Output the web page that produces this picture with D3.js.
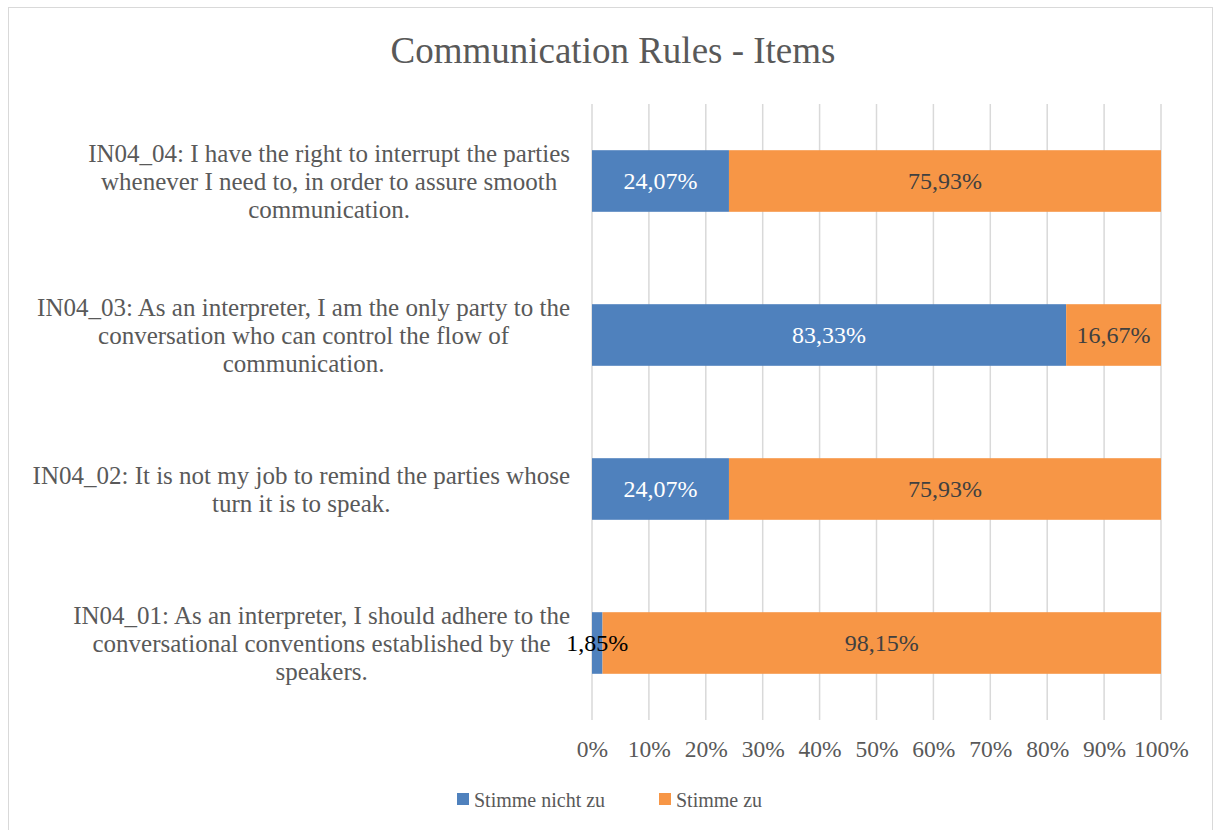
<!DOCTYPE html>
<html>
<head>
<meta charset="utf-8">
<script src="https://cdn.jsdelivr.net/npm/d3@7"></script>
<style>
  body { margin: 0; background: #fff; }
</style>
</head>
<body>
<div id="chart"></div>
<script>
const items = [
  "IN04_04: I have the right to interrupt the parties whenever I need to, in order to assure smooth communication.",
  "IN04_03: As an interpreter, I am the only party to the conversation who can control the flow of communication.",
  "IN04_02: It is not my job to remind the parties whose turn it is to speak.",
  "IN04_01: As an interpreter, I should adhere to the conversational conventions established by the speakers."
];
const labelLines = [
  ["IN04_04: I have the right to interrupt the parties", "whenever I need to, in order to assure smooth", "communication."],
  ["IN04_03: As an interpreter, I am the only party to the", "conversation who can control the flow of", "communication."],
  ["IN04_02: It is not my job to remind the parties whose", "turn it is to speak."],
  ["IN04_01: As an interpreter, I should adhere to the", "conversational conventions established by the", "speakers."]
];
const disagree = [24.07, 83.33, 24.07, 1.85];
const agree = [75.93, 16.67, 75.93, 98.15];
const seriesNames = ["Stimme nicht zu", "Stimme zu"];
const ticks = [0, 10, 20, 30, 40, 50, 60, 70, 80, 90, 100];

const width = 1215, height = 830;
const colors = ["#4f81bd", "#f79646"];
const font = "'Liberation Serif', 'Times New Roman', serif";

const svg = d3.select("#chart").append("svg")
  .attr("width", width)
  .attr("height", height)
  .style("font-family", font);

// chart border
svg.append("rect")
  .attr("x", 8.5).attr("y", 7.5)
  .attr("width", 1204).attr("height", 830)
  .attr("fill", "#fff")
  .attr("stroke", "#d9d9d9");

svg.append("text")
  .attr("x", 613).attr("y", 50)
  .attr("dy", "0.35em")
  .attr("text-anchor", "middle")
  .attr("font-size", "37px")
  .attr("fill", "#595959")
  .text("Communication Rules - Items");

const x = d3.scaleLinear().domain([0, 100]).range([592, 1161]);
const y = d3.scaleBand().domain(items).range([104, 720]).paddingInner(0.6).paddingOuter(0.3);

// gridlines
svg.append("g")
  .selectAll("line")
  .data(ticks)
  .join("line")
  .attr("x1", d => x(d)).attr("x2", d => x(d))
  .attr("y1", 104).attr("y2", 720)
  .attr("stroke", "#d9d9d9")
  .attr("stroke-width", 1.5);

const rows = items.map((d, i) => ({ item: d, lines: labelLines[i], vals: [disagree[i], agree[i]] }));

const row = svg.append("g").selectAll("g")
  .data(rows)
  .join("g");

row.each(function(d) {
  const g = d3.select(this);
  const segs = [];
  let start = 0;
  d.vals.forEach((v, k) => {
    segs.push({ x0: x(start), x1: x(start + v), v, k });
    start += v;
  });
  g.selectAll("rect").data(segs).join("rect")
    .attr("x", s => s.x0).attr("y", y(d.item))
    .attr("width", s => s.x1 - s.x0).attr("height", y.bandwidth())
    .attr("fill", s => colors[s.k]);
  g.selectAll("text.val").data(segs).join("text")
    .attr("class", "val")
    .attr("x", s => (s.x0 + s.x1) / 2)
    .attr("y", y(d.item) + y.bandwidth() / 2)
    .attr("dy", "0.35em")
    .attr("text-anchor", "middle")
    .attr("font-size", "24px")
    .attr("fill", s => (s.x1 - s.x0) < 40 ? "#000" : (s.k === 0 ? "#fff" : "#404040"))
    .text(s => s.v.toFixed(2).replace(".", ",") + "%");

  // category label: block right-aligned at 570, lines centred in block
  const cy = y(d.item) + y.bandwidth() / 2;
  const lh = 28;
  const t = g.append("text")
    .attr("text-anchor", "middle")
    .attr("font-size", "25px")
    .attr("fill", "#595959");
  const spans = d.lines.map((l, j) => t.append("tspan")
    .attr("y", cy + (j - (d.lines.length - 1) / 2) * lh)
    .attr("dy", "0.35em")
    .text(l));
  const maxW = d3.max(spans, s => s.node().getComputedTextLength());
  spans.forEach(s => s.attr("x", 570 - maxW / 2));
});

// x axis
const xAxis = svg.append("g")
  .attr("transform", "translate(0,720)")
  .call(d3.axisBottom(x).tickValues(ticks).tickSize(0).tickPadding(20).tickFormat(d => d + "%"));
xAxis.select(".domain").remove();
xAxis.selectAll("text")
  .attr("font-family", font)
  .attr("font-size", "23.5px")
  .attr("fill", "#595959");

// legend
const legendX = [457, 659];
const legend = svg.append("g").selectAll("g")
  .data(seriesNames)
  .join("g")
  .attr("transform", (d, i) => `translate(${legendX[i]},793)`);
legend.append("rect")
  .attr("width", 12).attr("height", 12)
  .attr("fill", (d, i) => colors[i]);
legend.append("text")
  .attr("x", 17).attr("y", 7)
  .attr("dy", "0.35em")
  .attr("font-size", "20px")
  .attr("fill", "#595959")
  .text(d => d);
</script>
</body>
</html>
